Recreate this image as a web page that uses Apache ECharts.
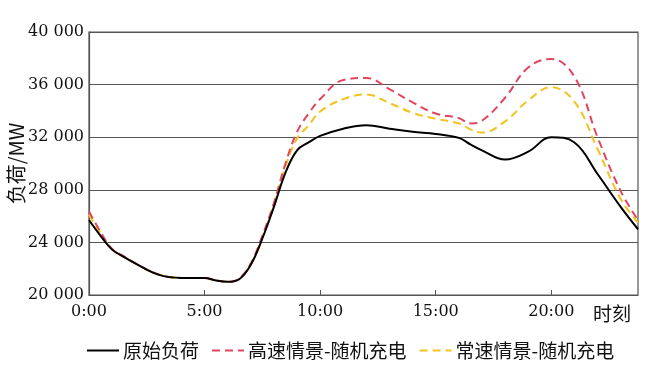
<!DOCTYPE html>
<html>
<head>
<meta charset="utf-8">
<script src="https://cdn.jsdelivr.net/npm/echarts@6/dist/echarts.min.js"></script>
<style>html,body{margin:0;padding:0;background:#fff;}#c{width:649px;height:371px;}</style>
</head>
<body>
<div id="c"></div>
<script>
var hours    = [0, 0.5, 1, 1.5, 2, 3, 4, 5, 5.5, 6, 6.5, 7, 7.5, 8, 8.5, 9, 9.5, 10, 11, 12, 13, 14, 15, 16, 16.5, 17, 18, 19, 20, 21, 22, 23, 23.75];
var original = [25700, 24500, 23450, 22900, 22400, 21550, 21300, 21300, 21100, 21000, 21200, 22300, 24300, 26700, 29300, 31000, 31600, 32100, 32650, 32900, 32650, 32420, 32250, 31950, 31450, 31000, 30300, 30900, 32000, 31600, 29200, 26700, 25000];
var highSpeed = [26350, 24800, 23500, 22950, 22420, 21570, 21300, 21300, 21100, 21000, 21250, 22400, 24500, 27000, 30000, 32400, 33800, 34900, 36350, 36500, 35650, 34650, 33800, 33450, 33050, 33250, 35000, 37300, 37950, 36600, 32000, 27900, 25700];
var normalSpeed = [26100, 24700, 23480, 22930, 22410, 21560, 21300, 21300, 21100, 21000, 21230, 22350, 24400, 26900, 29800, 31900, 32900, 33950, 34900, 35250, 34600, 33850, 33400, 33050, 32600, 32350, 33200, 34800, 35800, 34700, 31100, 27300, 25500];
var seriesNames = ['原始负荷', '高速情景-随机充电', '常速情景-随机充电'];
var yTicks = [20000, 24000, 28000, 32000, 36000, 40000];

function pairs(v){ return hours.map(function(h,i){ return [h, v[i]]; }); }
var numFont = '"DejaVu Serif", "Liberation Serif", serif';
var cjkFont = '"Noto Sans CJK SC", sans-serif';
var chart = echarts.init(document.getElementById('c'));
chart.setOption({
  animation: false,
  backgroundColor: '#fff',
  grid: {left: 89, right: 11, top: 32, bottom: 76, show: true, borderColor: '#555', borderWidth: 1.2, outerBoundsMode: 'none', containLabel: false},
  legend: {
    top: 336, left: 81, itemWidth: 32, itemHeight: 14, itemGap: 12,
    itemStyle: {opacity: 0},
    textStyle: {fontFamily: cjkFont, fontSize: 19, color: '#111', padding: [0, 0, 0, -1]},
    data: seriesNames
  },
  xAxis: {
    type: 'value', min: 0, max: 23.75, interval: 5,
    name: '时刻', nameLocation: 'end', nameGap: -7, nameMoveOverlap: false,
    nameTextStyle: {fontFamily: cjkFont, fontSize: 19, color: '#111', align: 'right', verticalAlign: 'top', padding: [9, 0, 0, 0]},
    axisLine: {show: true, lineStyle: {color: '#555', width: 1.2}},
    axisTick: {show: true, inside: true, length: 5, lineStyle: {color: '#555'}},
    splitLine: {show: false},
    axisLabel: {showMaxLabel: false, fontFamily: numFont, fontSize: 16, color: '#111', margin: 9,
      formatter: function(v){ return v + ':00'; }}
  },
  yAxis: {
    type: 'value', min: yTicks[0], max: yTicks[yTicks.length-1], interval: 4000,
    name: '负荷/MW', nameLocation: 'middle', nameGap: 63, nameRotate: 90, nameMoveOverlap: false,
    nameTextStyle: {fontFamily: cjkFont, fontSize: 20, color: '#111'},
    axisLine: {show: true, lineStyle: {color: '#555', width: 1.2}},
    axisTick: {show: false},
    splitLine: {show: true, lineStyle: {color: '#555', width: 1.2}},
    axisLabel: {fontFamily: numFont, fontSize: 16, color: '#111', margin: 5,
      formatter: function(v){ return String(v).replace(/\B(?=(\d{3})+(?!\d))/g, ' '); }}
  },
  series: [
    {name: seriesNames[0], type: 'line', smooth: 0.4, symbol: 'none', data: pairs(original),
     lineStyle: {color: '#000', width: 2}, itemStyle: {color: '#000'}, z: 3},
    {name: seriesNames[1], type: 'line', smooth: 0.4, symbol: 'none', data: pairs(highSpeed),
     lineStyle: {color: '#e2455e', width: 2, type: [8, 5]}, itemStyle: {color: '#e2455e'}, z: 2},
    {name: seriesNames[2], type: 'line', smooth: 0.4, symbol: 'none', data: pairs(normalSpeed),
     lineStyle: {color: '#f2c31c', width: 2, type: [8, 5]}, itemStyle: {color: '#f2c31c'}, z: 1}
  ]
});
</script>
</body>
</html>
